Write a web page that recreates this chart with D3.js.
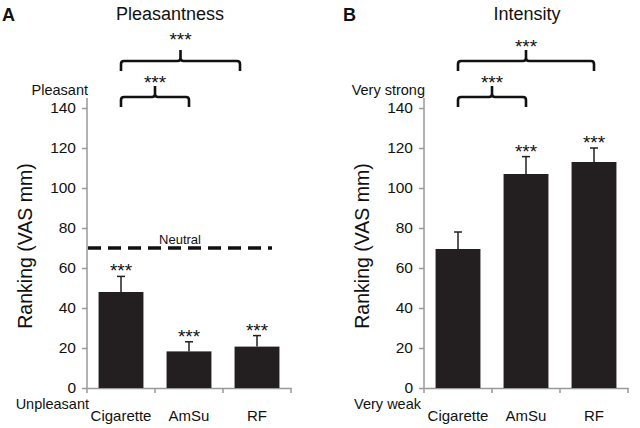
<!DOCTYPE html>
<html><head><meta charset="utf-8">
<script src="https://cdn.jsdelivr.net/npm/d3@7"></script>
<style>body{margin:0;background:#fff}text{font-family:"Liberation Sans",Arial,sans-serif;fill:#111}</style>
</head><body><svg id="c" width="640" height="428"></svg>
<script>
const categories = ["Cigarette", "AmSu", "RF"];
const pleasantness = [48, 18.3, 20.7];
const pleasantnessErr = [7.8, 4.8, 5.5];
const intensity = [69.5, 107, 113];
const intensityErr = [8.5, 8.7, 7];
const yTicks = [0, 20, 40, 60, 80, 100, 120, 140];
const neutralValue = 70;
const starsA = [true, true, true];
const starsB = [false, true, true];
// brackets: category-index endpoints
const bracketsA = [{from: 0, to: 1, level: 0, lift: 0}, {from: 0, to: 1.75, level: 1, lift: 7}];
const bracketsB = [{from: 0, to: 1, level: 0, lift: 0}, {from: 0, to: 2, level: 1, lift: 0}];

const svg = d3.select("#c");
const y = d3.scaleLinear().domain([0, 140]).range([388, 108]);

function panel(opt) {
  const g = svg.append("g");
  const x = d3.scaleBand().domain(categories).range([opt.x0, opt.x0 + 204]).paddingInner(0.34).paddingOuter(0.17);
  const xi = d3.scaleLinear().domain([0, 2]).range([x(categories[0]) + x.bandwidth()/2, x(categories[2]) + x.bandwidth()/2]);
  // y axis
  const ya = g.append("g").attr("transform", `translate(${opt.x0},0)`)
    .call(d3.axisLeft(y).tickValues(yTicks).tickSize(5).tickPadding(6));
  ya.select(".domain").remove();
  ya.selectAll(".tick line").attr("stroke", "#999").attr("stroke-width", 1.5);
  ya.selectAll(".tick text").attr("font-size", 15.5).style("font-family", "Liberation Sans, Arial, sans-serif").attr("fill", "#111");
  g.append("line").attr("x1", opt.x0).attr("x2", opt.x0).attr("y1", y(145)).attr("y2", y(0))
    .attr("stroke", "#999").attr("stroke-width", 1.5);
  // x axis
  const xa = g.append("g").attr("transform", `translate(0,${y(0)})`)
    .call(d3.axisBottom(x).tickSize(0).tickPadding(22));
  xa.select(".domain").attr("stroke", "#999").attr("stroke-width", 1.5);
  xa.selectAll(".tick text").attr("font-size", 15).style("font-family", "Liberation Sans, Arial, sans-serif").attr("fill", "#111");
  const tickXs = d3.range(4).map(i => opt.x0 + i * 204/3);
  g.selectAll(".xt").data(tickXs).join("line").attr("x1", d => d).attr("x2", d => d)
    .attr("y1", y(0)).attr("y2", y(0) + 5).attr("stroke", "#999").attr("stroke-width", 1.5);
  // bars
  g.selectAll(".bar").data(opt.values).join("rect")
    .attr("x", (d, i) => x(categories[i])).attr("width", x.bandwidth())
    .attr("y", d => y(d)).attr("height", d => y(0) - y(d)).attr("fill", "#231f20");
  // error bars
  opt.values.forEach((v, i) => {
    const cx = x(categories[i]) + x.bandwidth()/2;
    g.append("line").attr("x1", cx).attr("x2", cx).attr("y1", y(v)).attr("y2", y(v + opt.err[i]))
      .attr("stroke", "#231f20").attr("stroke-width", 1.5);
    g.append("line").attr("x1", cx - 4).attr("x2", cx + 4).attr("y1", y(v + opt.err[i])).attr("y2", y(v + opt.err[i]))
      .attr("stroke", "#231f20").attr("stroke-width", 1.5);
    if (opt.stars[i]) {
      g.append("text").attr("x", cx).attr("y", y(v + opt.err[i]) + 1).attr("text-anchor", "middle")
        .attr("font-size", 19).text("***");
    }
  });
  // brackets
  const levelY = [y(145.5), y(163.5)];
  opt.brackets.forEach(b => {
    const xa0 = xi(b.from), xb = xi(b.to), ly = levelY[b.level], xm = (xa0 + xb)/2;
    const r = 3, drop = 10, up = 11;
    const p = `M${xa0},${ly+drop} L${xa0},${ly+r} Q${xa0},${ly} ${xa0+r},${ly} L${xm-r},${ly} Q${xm},${ly} ${xm},${ly-r} L${xm},${ly-up} M${xm},${ly-r} Q${xm},${ly} ${xm+r},${ly} L${xb-r},${ly} Q${xb},${ly} ${xb},${ly+r} L${xb},${ly+drop}`;
    g.append("path").attr("d", p).attr("fill", "none").attr("stroke", "#111").attr("stroke-width", 2.6);
    g.append("text").attr("x", xm).attr("y", ly - up + 3 - b.lift).attr("text-anchor", "middle").attr("font-size", 19).text("***");
  });
  // labels
  g.append("text").attr("x", opt.x0 + 1).attr("y", 95).attr("text-anchor", "end").attr("font-size", 14.5).text(opt.top);
  g.append("text").attr("x", opt.x0 + 1 + opt.botShift).attr("y", 409).attr("text-anchor", "end").attr("font-size", 14.5).text(opt.bottom);
  g.append("text").attr("transform", `translate(${opt.x0 - 55},246) rotate(-90)`).attr("text-anchor", "middle")
    .attr("font-size", 19.5).text("Ranking (VAS mm)");
  g.append("text").attr("x", opt.titleX).attr("y", 20).attr("text-anchor", "middle").attr("font-size", 18).text(opt.title);
  g.append("text").attr("x", opt.letterX).attr("y", 21).attr("font-size", 18).attr("font-weight", "bold").text(opt.letter);
  return {g, x};
}

const A = panel({x0: 87, values: pleasantness, err: pleasantnessErr, stars: starsA, brackets: bracketsA,
  top: "Pleasant", bottom: "Unpleasant", botShift: 1, title: "Pleasantness", titleX: 170, letter: "A", letterX: 2});
// neutral line
A.g.append("line").attr("x1", 88).attr("x2", 272).attr("y1", y(neutralValue)).attr("y2", y(neutralValue))
  .attr("stroke", "#111").attr("stroke-width", 3.5).attr("stroke-dasharray", "13,7");
A.g.append("text").attr("x", 180).attr("y", y(neutralValue) - 4).attr("text-anchor", "middle").attr("font-size", 13).text("Neutral");

panel({x0: 424, values: intensity, err: intensityErr, stars: starsB, brackets: bracketsB,
  top: "Very strong", bottom: "Very weak", botShift: -4, title: "Intensity", titleX: 527, letter: "B", letterX: 343});
</script></body></html>
